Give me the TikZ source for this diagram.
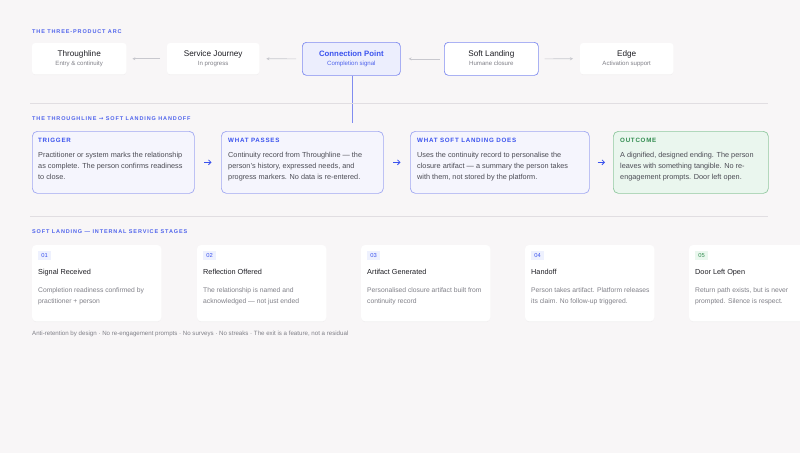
\documentclass[tikz,border=0pt]{standalone}
\usepackage{fontspec}
\setmainfont{Liberation Sans}
\newfontfamily\spacedfont[LetterSpace=16]{Liberation Sans}
\newfontfamily\headfont[LetterSpace=12]{Liberation Sans}
\usetikzlibrary{shadows,arrows.meta,calc}
\definecolor{bg}{RGB}{248,246,247}
\definecolor{blueA}{RGB}{58,82,238}
\definecolor{blueL}{RGB}{80,100,236}
\definecolor{blueBorder}{RGB}{128,140,240}
\definecolor{blueFill}{RGB}{236,238,253}
\definecolor{lavFill}{RGB}{245,245,253}
\definecolor{lavBorder}{RGB}{160,168,242}
\definecolor{greenFill}{RGB}{234,246,238}
\definecolor{greenBorder}{RGB}{145,200,160}
\definecolor{greenText}{RGB}{50,140,80}
\definecolor{darkText}{RGB}{30,30,36}
\definecolor{midText}{RGB}{75,75,84}
\definecolor{grayText}{RGB}{128,128,136}
\definecolor{lineGray}{RGB}{225,222,226}
\definecolor{arrowGray}{RGB}{200,200,206}
\definecolor{badgeBlue}{RGB}{238,241,254}
\definecolor{badgeGreen}{RGB}{234,247,238}
\begin{document}
\begin{tikzpicture}[x=1pt,y=-1pt,
  sectionlabel/.style={anchor=base west,inner sep=0,text=blueL,font=\spacedfont\bfseries\fontsize{5.5}{7}\selectfont},
  topbox/.style={anchor=north west,rounded corners=3pt,fill=white,draw=white,
     drop shadow={shadow xshift=0pt,shadow yshift=-1pt,opacity=0.05},inner sep=0},
  toptitle/.style={inner sep=0,anchor=base,text=darkText,font=\fontsize{8.2}{9}\selectfont},
  topsub/.style={inner sep=0,anchor=base,text=grayText,font=\fontsize{6.1}{7}\selectfont},
  arcarrow/.style={draw=arrowGray,line width=0.6pt,-{Stealth[length=3pt,width=3pt]}},
  handbox/.style={anchor=north west,rounded corners=5pt,fill=lavFill,draw=lavBorder,line width=0.7pt,minimum height=62pt,inner sep=0},
  handhead/.style={anchor=base west,inner sep=0,text=blueA,font=\headfont\bfseries\fontsize{6.2}{7}\selectfont},
  handbody/.style={anchor=base west,inner sep=0,align=left,text=midText,font=\fontsize{7.3}{11}\selectfont},
  handarrow/.style={draw=blueA,line width=0.8pt,-{Straight Barb[length=2.5pt,width=5pt]}},
  stagecard/.style={anchor=north west,rounded corners=4pt,fill=white,draw=white,
     drop shadow={shadow xshift=0pt,shadow yshift=-1pt,opacity=0.06},minimum width=129pt,minimum height=76pt,inner sep=0},
  badge/.style={anchor=center,fill=badgeBlue,text=blueA,inner sep=0,minimum width=13pt,minimum height=9pt,font=\fontsize{5.8}{7}\selectfont},
  stagetitle/.style={anchor=base west,inner sep=0,text=darkText,font=\fontsize{7.3}{9}\selectfont},
  stagedesc/.style={anchor=base west,inner sep=0,align=left,text=grayText,font=\fontsize{6.75}{11}\selectfont},
]
\useasboundingbox (0,0) rectangle (800,453);
\fill[bg] (0,0) rectangle (800,453);

% ---------- Section 1 ----------
\node[sectionlabel] (lab1) at (32,33.5) {THE THREE-PRODUCT ARC};

\node[topbox,minimum width=94pt,minimum height=31pt] (thr) at (32,43) {};
\node[topbox,minimum width=92pt,minimum height=31pt] (sj) at (167,43) {};
\node[anchor=north west,rounded corners=4pt,fill=blueFill,draw=blueBorder,line width=0.7pt,minimum width=98pt,minimum height=33pt,inner sep=0] (cp) at (302,42) {};
\node[anchor=north west,rounded corners=4pt,fill=white,draw=blueBorder,line width=0.7pt,minimum width=94pt,minimum height=33pt,inner sep=0] (sl) at (444,42) {};
\node[topbox,minimum width=93pt,minimum height=31pt] (edge) at (580,43) {};

\node[toptitle] (thrT) at ($(thr.center)+(0,-2.5)$) {Throughline};
\node[topsub] (thrS) at ($(thr.center)+(0,7)$) {Entry \& continuity};
\node[toptitle] (sjT) at ($(sj.center)+(0,-2.5)$) {Service Journey};
\node[topsub] (sjS) at ($(sj.center)+(0,7)$) {In progress};
\node[toptitle,text=blueA,font=\bfseries\fontsize{7.8}{9}\selectfont] (cpT) at ($(cp.center)+(0,-2.5)$) {Connection Point};
\node[topsub,text=blueL] (cpS) at ($(cp.center)+(0,7)$) {Completion signal};
\node[toptitle] (slT) at ($(sl.center)+(0,-2.5)$) {Soft Landing};
\node[topsub] (slS) at ($(sl.center)+(0,7)$) {Humane closure};
\node[toptitle] (edgeT) at ($(edge.center)+(0,-2.5)$) {Edge};
\node[topsub] (edgeS) at ($(edge.center)+(0,7)$) {Activation support};

\draw[arcarrow,shorten <=7pt,shorten >=6pt] (sj.west) -- (thr.east);
\draw[arcarrow,shorten <=6pt,shorten >=7pt] (cp.west) -- (sj.east);
\draw[arcarrow,shorten <=4pt,shorten >=8pt] (sl.west) -- (cp.east);
\draw[arcarrow,shorten <=6pt,shorten >=7pt] (sl.east) -- (edge.west);

\coordinate (vEnd) at (352,123);
\draw[blueBorder,line width=1pt] (cp.south -| vEnd) -- (vEnd);

\coordinate (d1a) at (30,103);
\coordinate (d1b) at (768,103);
\draw[lineGray,line width=0.6pt] (d1a) -- (d1b);

% ---------- Section 2 ----------
\node[sectionlabel] (lab2) at (32,120.5) {THE THROUGHLINE {\fontspec{DejaVu Sans}→} SOFT LANDING HANDOFF};

\node[handbox,minimum width=162pt] (trig) at (32,131) {};
\node[handbox,minimum width=162pt] (pass) at (221,131) {};
\node[handbox,minimum width=179pt] (does) at (410,131) {};
\node[handbox,minimum width=155pt,fill=greenFill,draw=greenBorder] (out) at (613,131) {};

% multi-line nodes: base anchor sits on the last line (3 lines, 11pt apart, first at 157.5)
\node[handhead] (trigH) at (38,142.5) {TRIGGER};
\node[handbody] (trigB) at (38,179.5) {Practitioner or system marks the relationship\\as complete. The person confirms readiness\\to close.};
\node[handhead] (passH) at (228,142.5) {WHAT PASSES};
\node[handbody] (passB) at (228,179.5) {Continuity record from Throughline — the\\person’s history, expressed needs, and\\progress markers. No data is re-entered.};
\node[handhead] (doesH) at (417,142.5) {WHAT SOFT LANDING DOES};
\node[handbody] (doesB) at (417,179.5) {Uses the continuity record to personalise the\\closure artifact — a summary the person takes\\with them, not stored by the platform.};
\node[handhead,text=greenText] (outH) at (620,142.5) {OUTCOME};
\node[handbody] (outB) at (620,179.5) {A dignified, designed ending. The person\\leaves with something tangible. No re-\\engagement prompts. Door left open.};

\draw[handarrow,shorten <=9.5pt,shorten >=9.5pt] (trig.east) -- (pass.west);
\draw[handarrow,shorten <=9.5pt,shorten >=9.5pt] (pass.east) -- (does.west);
\draw[handarrow,shorten <=8pt,shorten >=8pt] (does.east) -- (out.west);

\coordinate (d2a) at (30,216);
\coordinate (d2b) at (768,216);
\draw[lineGray,line width=0.6pt] (d2a) -- (d2b);

% ---------- Section 3 ----------
\node[sectionlabel] (lab3) at (32,233.5) {SOFT LANDING — INTERNAL SERVICE STAGES};

\foreach \i/\x/\num/\title/\descA/\descB in {
  1/32/01/Signal Received/Completion readiness confirmed by/practitioner + person,
  2/197/02/Reflection Offered/The relationship is named and/acknowledged — not just ended,
  3/361/03/Artifact Generated/Personalised closure artifact built from/continuity record,
  4/525/04/Handoff/Person takes artifact. Platform releases/its claim. No follow-up triggered.,
  5/689/05/Door Left Open/Return path exists{,} but is never/prompted. Silence is respect.}{
  \node[stagecard] (card\i) at (\x,245) {};
  \node[badge] (badge\i) at (\x+12.5,255.5) {\num};
  \node[stagetitle] (title\i) at (\x+6,274.5) {\title};
  \node[stagedesc] (desc\i) at (\x+6,303) {\descA\\\descB};
}
\node[badge,fill=badgeGreen,text=greenText] (badge5g) at (701.5,255.5) {05};

\node[anchor=base west,inner sep=0,text=grayText,font=\fontsize{6.15}{7}\selectfont] (foot) at (32,335) {Anti-retention by design · No re-engagement prompts · No surveys · No streaks · The exit is a feature, not a residual};

\end{tikzpicture}
\end{document}
